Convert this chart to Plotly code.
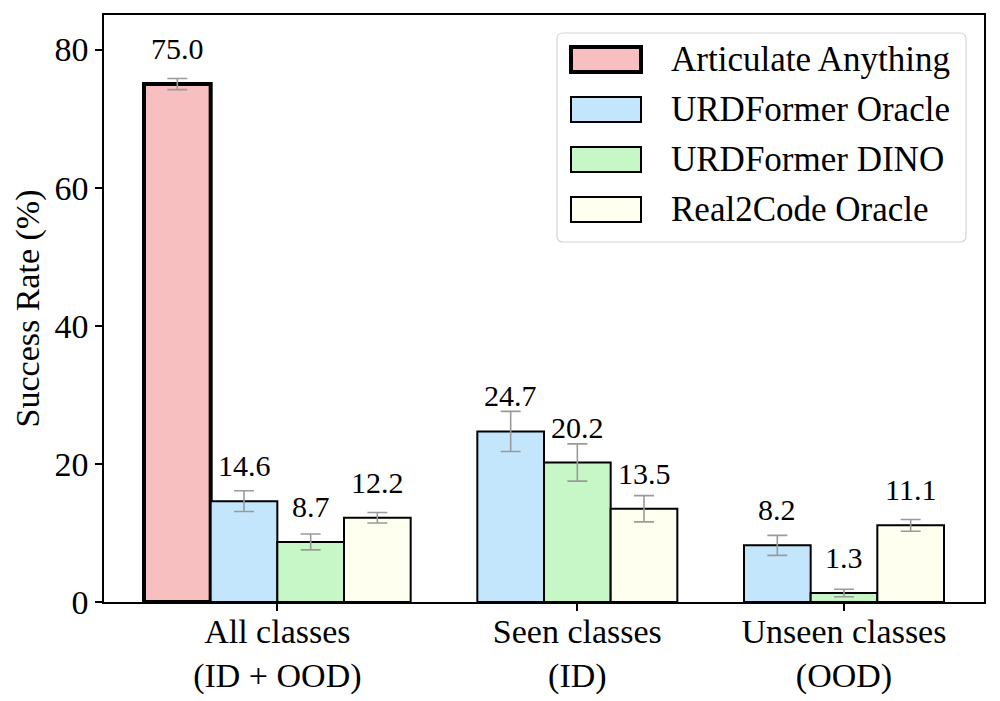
import plotly.graph_objects as go

# ---------------- data ----------------
categories = ["All classes<br>(ID + OOD)", "Seen classes<br>(ID)", "Unseen classes<br>(OOD)"]
methods = ["Articulate Anything", "URDFormer Oracle", "URDFormer DINO", "Real2Code Oracle"]

articulate_anything = [75.0, None, None]
urdformer_oracle = [14.6, 24.7, 8.2]
urdformer_dino = [8.7, 20.2, 1.3]
real2code_oracle = [12.2, 13.5, 11.1]

articulate_anything_err = [0.8, None, None]
urdformer_oracle_err = [1.5, 2.9, 1.45]
urdformer_dino_err = [1.15, 2.7, 0.55]
real2code_oracle_err = [0.75, 1.9, 0.85]

y_ticks = [0, 20, 40, 60, 80]

# ---------------- style / layout ----------------
values = [articulate_anything, urdformer_oracle, urdformer_dino, real2code_oracle]
errors = [articulate_anything_err, urdformer_oracle_err, urdformer_dino_err, real2code_oracle_err]
fills = ["#F7BFBF", "#C3E6FC", "#C7F6C7", "#FFFFEF"]
edge_w = [4, 2, 2, 2]
group_centers = [0.0, 4.5, 8.5]
bar_w = 1.0
FONT = "Liberation Serif, Times New Roman, Times, serif"

# plot-area geometry (pixels) for manual legend placement
L, R, T, B = 104, 984, 15, 602
W_PLOT, H_PLOT = R - L, B - T


def px(x):
    return (x - L) / W_PLOT


def py(y):
    return (B - y) / H_PLOT


fig = go.Figure()
annotations = []

for mi, name in enumerate(methods):
    xs, ys, es = [], [], []
    for gi, gc in enumerate(group_centers):
        present = [k for k in range(len(methods)) if values[k][gi] is not None]
        if values[mi][gi] is None:
            continue
        pos = present.index(mi)
        x = gc + (pos - (len(present) - 1) / 2) * bar_w
        xs.append(x)
        ys.append(values[mi][gi])
        es.append(errors[mi][gi])
        annotations.append(dict(
            x=x, y=values[mi][gi], xref="x", yref="y",
            text=f"{values[mi][gi]:.1f}", showarrow=False,
            xanchor="center", yanchor="bottom", yshift=17,
            font=dict(family=FONT, size=30, color="black"),
        ))
    fig.add_trace(go.Bar(
        x=xs, y=ys, width=bar_w, name=name,
        marker=dict(color=fills[mi], line=dict(color="black", width=edge_w[mi])),
        error_y=dict(type="data", array=es, visible=True, color="#9a9a9a",
                     thickness=1.6, width=10),
        showlegend=False,
    ))

# ---------------- manual legend ----------------
shapes = []
lx0, lx1, ly0, ly1, r = 557, 966, 33, 242, 6
rx, ry = r / W_PLOT, r / H_PLOT
X0, X1, Y0, Y1 = px(lx0), px(lx1), py(ly1), py(ly0)
path = (f"M {X0+rx},{Y0} L {X1-rx},{Y0} Q {X1},{Y0} {X1},{Y0+ry} "
        f"L {X1},{Y1-ry} Q {X1},{Y1} {X1-rx},{Y1} L {X0+rx},{Y1} "
        f"Q {X0},{Y1} {X0},{Y1-ry} L {X0},{Y0+ry} Q {X0},{Y0} {X0+rx},{Y0} Z")
shapes.append(dict(type="path", path=path, xref="paper", yref="paper",
                   fillcolor="rgba(255,255,255,0.85)", line=dict(color="#d4d4d4", width=1.2),
                   layer="above"))
row_centers = [59.5, 109.5, 159.5, 209.5]
for mi, name in enumerate(methods):
    cy = row_centers[mi]
    shapes.append(dict(type="rect", xref="paper", yref="paper",
                       x0=px(571), x1=px(641), y0=py(cy + 12.5), y1=py(cy - 12.5),
                       fillcolor=fills[mi], line=dict(color="black", width=edge_w[mi]),
                       layer="above"))
    annotations.append(dict(x=px(669), y=py(cy), xref="paper", yref="paper",
                            text=name, showarrow=False, xanchor="left", yanchor="middle",
                            font=dict(family=FONT, size=35, color="black")))

fig.update_layout(
    width=1000, height=701,
    margin=dict(l=L, r=1000 - R, t=T, b=701 - B),
    paper_bgcolor="white", plot_bgcolor="white",
    barmode="overlay",
    font=dict(family=FONT, size=34, color="black"),
    shapes=shapes, annotations=annotations,
    showlegend=False,
)
fig.update_xaxes(
    range=[-2.6, 10.6], tickmode="array", tickvals=group_centers, ticktext=categories,
    ticks="outside", ticklen=7, tickwidth=1.5, tickcolor="black",
    showline=True, linecolor="black", linewidth=1.6, mirror=True,
    showgrid=False, zeroline=False, tickfont=dict(size=34),
    automargin=False, ticklabelstandoff=-9,
)
fig.update_yaxes(
    range=[0, 85], tickmode="array", tickvals=y_ticks,
    ticks="outside", ticklen=7, tickwidth=1.5, tickcolor="black",
    showline=True, linecolor="black", linewidth=1.6, mirror=True,
    showgrid=False, zeroline=False, tickfont=dict(size=34),
    title=dict(text="Success Rate (%)", font=dict(size=34), standoff=5),
    automargin=False,
)

fig.write_html("out.html")
